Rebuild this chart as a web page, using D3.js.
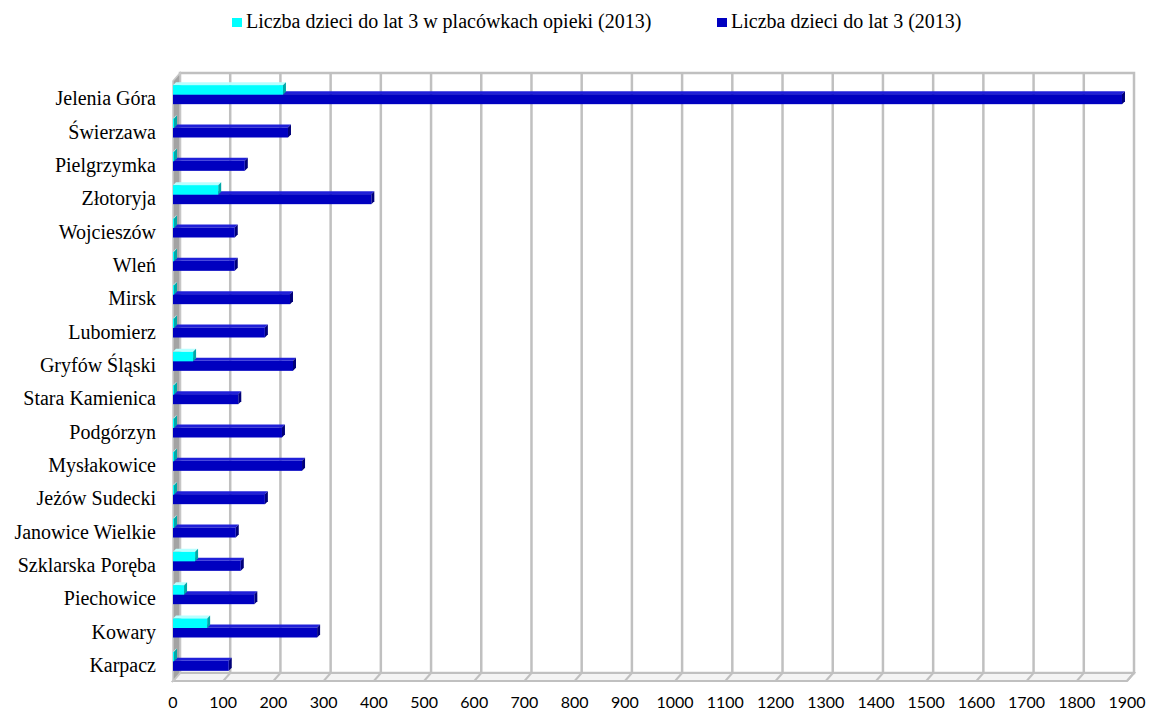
<!DOCTYPE html>
<html>
<head>
<meta charset="utf-8">
<script src="https://cdn.jsdelivr.net/npm/d3@7"></script>
<style>
  body { margin: 0; background: #fff; }
  svg { display: block; }
  .serif { font-family: 'Liberation Serif', 'Tinos', 'DejaVu Serif', serif; }
</style>
</head>
<body>
<div class="chart"></div>
<script>
// gminy, top to bottom as drawn
const gminy = ['Jelenia Góra', 'Świerzawa', 'Pielgrzymka', 'Złotoryja', 'Wojcieszów', 'Wleń',
  'Mirsk', 'Lubomierz', 'Gryfów Śląski', 'Stara Kamienica', 'Podgórzyn', 'Mysłakowice',
  'Jeżów Sudecki', 'Janowice Wielkie', 'Szklarska Poręba', 'Piechowice', 'Kowary', 'Karpacz'];
// Liczba dzieci do lat 3 w placówkach opieki (2013)
const wPlacowkach = [219, 2, 2, 90, 2, 2, 2, 2, 40, 2, 2, 2, 2, 2, 44, 22, 68, 2];
// Liczba dzieci do lat 3 (2013)
const dzieci = [1890, 229, 143, 395, 123, 123, 233, 183, 239, 130, 217, 257, 183, 125, 135, 162, 287, 111];
const xTicks = d3.range(0, 2000, 100);
const seria = ['Liczba dzieci do lat 3 w placówkach opieki (2013)', 'Liczba dzieci do lat 3 (2013)'];

const width = 1150, height = 711;
const svg = d3.select('.chart').append('svg').attr('width', width).attr('height', height);

// front plane scales, depth offset for the back wall
const x = d3.scaleLinear().domain([0, 1900]).range([173, 1127]);
const y = d3.scaleBand().domain(gminy).range([82, 682]).padding(0);
const dx = 7, dy = -8;
const floorY = 681, topY = 81;

const poly = pts => pts.map(p => p.join(',')).join(' ');

// back wall
svg.append('rect')
  .attr('x', x(0) + dx).attr('y', topY + dy)
  .attr('width', x(1900) - x(0)).attr('height', floorY - topY)
  .attr('fill', '#fff').attr('stroke', '#c0c0c0').attr('stroke-width', 2.5);

// gridlines on the back wall + floor
const grid = svg.append('g').attr('class', 'grid');
grid.selectAll('line.v').data(xTicks.slice(1, -1)).join('line')
  .attr('class', 'v')
  .attr('x1', d => x(d) + dx).attr('x2', d => x(d) + dx)
  .attr('y1', topY + dy).attr('y2', floorY + dy)
  .attr('stroke', '#c0c0c0').attr('stroke-width', 2.5);

// floor
svg.append('polygon')
  .attr('points', poly([[x(0), floorY], [x(0) + dx, floorY + dy], [x(1900) + dx, floorY + dy], [x(1900), floorY]]))
  .attr('fill', '#f4f4f4').attr('stroke', '#c0c0c0').attr('stroke-width', 2);
grid.raise();
grid.selectAll('line.f').data(xTicks.slice(1)).join('line')
  .attr('class', 'f')
  .attr('x1', d => x(d) + dx).attr('x2', d => x(d))
  .attr('y1', floorY + dy).attr('y2', floorY)
  .attr('stroke', '#c0c0c0').attr('stroke-width', 2);

// left wall
svg.append('polygon')
  .attr('points', poly([[x(0), topY], [x(0) + dx, topY + dy], [x(0) + dx, floorY + dy], [x(0), floorY]]))
  .attr('fill', '#a3a3a3').attr('stroke', '#c8c8c8').attr('stroke-width', 1.5);

// 3D bars
const bd = 3;
function bar3d(g, vals, off, h, front, topC, side) {
  const sel = g.selectAll('g').data(gminy.map((k, i) => ({k, v: vals[i]}))).join('g');
  sel.append('polygon')
    .attr('points', d => {
      const y0 = y(d.k) + y.bandwidth() / 2 + off;
      return poly([[x(0), y0], [x(0) + bd, y0 - bd], [x(d.v) + bd, y0 - bd], [x(d.v), y0]]);
    }).attr('fill', topC);
  sel.append('polygon')
    .attr('points', d => {
      const y0 = y(d.k) + y.bandwidth() / 2 + off;
      return poly([[x(d.v), y0], [x(d.v) + bd, y0 - bd], [x(d.v) + bd, y0 + h - bd], [x(d.v), y0 + h]]);
    }).attr('fill', side);
  sel.append('rect')
    .attr('x', x(0))
    .attr('y', d => y(d.k) + y.bandwidth() / 2 + off)
    .attr('width', d => x(d.v) - x(0))
    .attr('height', h)
    .attr('fill', front);
}
bar3d(svg.append('g').attr('class', 'blue'), dzieci, -4.5, 10, '#0000c0', '#2020d8', '#00007a');
bar3d(svg.append('g').attr('class', 'cyan'), wPlacowkach, -13.5, 9.5, '#00ffff', '#b8ffff', '#00a8a8');

// category labels
svg.append('g').selectAll('text').data(gminy).join('text')
  .attr('class', 'serif')
  .attr('x', 156)
  .attr('y', d => y(d) + y.bandwidth() / 2 + 6.5)
  .attr('text-anchor', 'end')
  .attr('font-size', 20)
  .attr('fill', '#000')
  .text(d => d);

// x tick labels
svg.append('g').selectAll('text').data(xTicks).join('text')
  .attr('x', d => x(d))
  .attr('y', 708)
  .attr('text-anchor', 'middle')
  .style('font-family', 'Lato, "Open Sans", sans-serif')
  .style('font-size', '16px')
  .attr('fill', '#000')
  .text(d => d);

// legend
const legendX = [232, 717];
const lg = svg.append('g').selectAll('g').data(seria).join('g')
  .attr('transform', (d, i) => `translate(${legendX[i]},0)`);
lg.append('rect').attr('x', 0).attr('y', 18).attr('width', 10).attr('height', 9)
  .attr('fill', (d, i) => i === 0 ? '#00ffff' : '#0000c0');
lg.append('text').attr('class', 'serif').attr('x', 14).attr('y', 28)
  .attr('font-family', "'Liberation Serif', 'Tinos', 'DejaVu Serif', serif")
  .attr('font-size', 20)
  .attr('fill', '#000')
  .text(d => d);
</script>
</body>
</html>
